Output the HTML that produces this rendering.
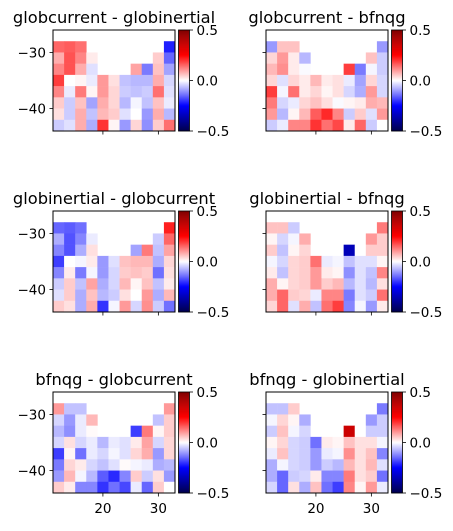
<!DOCTYPE html>
<html><head><meta charset="utf-8">
<style>
body{margin:0;background:#fff;}
svg text{font-family:"DejaVu Sans","Liberation Sans",sans-serif;fill:#000;}
</style></head>
<body>
<svg id="fig" width="453" height="526" viewBox="0 0 453 526" xmlns="http://www.w3.org/2000/svg"></svg>
<script>
const N = null;
const lonCenters = [12,14,16,18,20,22,24,26,28,30,32];
const latCenters = [-27,-29,-31,-33,-35,-37,-39,-41,-43];
const xTicks = [20,30];
const yTicks = [-30,-40];
const cbTicks = [0.5,0.0,-0.5];
const titles = ["globcurrent - globinertial","globcurrent - bfnqg","globinertial - globcurrent","globinertial - bfnqg","bfnqg - globcurrent","bfnqg - globinertial"];

const valsGcGi = [
[N,N,N,N,N,N,N,N,N,N,N],
[0.15,0.16,0.14,N,N,N,N,N,N,N,-0.22],
[0.08,0.17,0.12,0.02,N,N,N,N,N,0.05,-0.15],
[0.12,0.17,0.08,-0.03,N,N,N,0.09,-0.13,0.06,-0.09],
[0.19,0,0.01,-0.02,0.1,0.03,-0.06,-0.07,-0.07,0.08,-0.04],
[0.12,-0.02,0.13,0.01,0.1,0.04,-0.05,-0.06,-0.05,0.14,-0.03],
[0.05,-0.05,0.06,-0.09,0.08,0.04,-0.07,-0.01,-0.06,0.06,-0.02],
[0.03,-0.05,0.08,-0.06,0.07,0.05,-0.03,0,-0.1,0.08,-0.07],
[-0.05,-0.03,0.08,-0.08,0.2,0.01,-0.1,0.04,-0.11,0.05,0.14]];
const valsGcBf = [
[N,N,N,N,N,N,N,N,N,N,N],
[-0.1,0.06,0.06,N,N,N,N,N,N,N,-0.1],
[0.04,0.1,0.02,-0.07,N,N,N,N,N,0.06,-0.05],
[0.07,0.11,0.02,-0.005,N,N,N,0.19,-0.13,-0.01,-0.05],
[0.04,-0.03,0.04,0.02,0.07,0.02,0.03,-0.02,-0.09,0.04,-0.04],
[0.19,-0.01,0.14,0.02,0.04,0.01,0.03,-0.04,-0.08,0.1,-0.04],
[0.13,-0.04,-0.02,0.04,0.06,0.03,-0.005,0.01,0.02,0.08,0.07],
[0.1,-0.07,0.01,0.07,0.16,0.21,0.12,-0.05,0.05,-0.03,0.1],
[-0.05,-0.02,0.12,0.12,0.2,0.14,0.18,0.02,0.15,-0.05,0]];
const valsGiGc = [
[N,N,N,N,N,N,N,N,N,N,N],
[-0.15,-0.16,-0.14,N,N,N,N,N,N,N,0.22],
[-0.08,-0.17,-0.12,-0.02,N,N,N,N,N,-0.05,0.15],
[-0.12,-0.17,-0.08,0.03,N,N,N,-0.09,0.13,-0.06,0.09],
[-0.19,0,-0.01,0.02,-0.1,-0.03,0.06,0.07,0.07,-0.08,0.04],
[-0.12,0.02,-0.13,-0.01,-0.1,-0.04,0.05,0.06,0.05,-0.14,0.03],
[-0.05,0.05,-0.06,0.09,-0.08,-0.04,0.07,0.01,0.06,-0.06,0.02],
[-0.03,0.05,-0.08,0.06,-0.07,-0.05,0.03,0,0.1,-0.08,0.07],
[0.05,0.03,-0.08,0.08,-0.2,-0.01,0.1,-0.04,0.11,-0.05,-0.14]];
const valsGiBf = [
[N,N,N,N,N,N,N,N,N,N,N],
[0.06,0.06,-0.05,N,N,N,N,N,N,N,0.13],
[0.01,-0.04,-0.01,0.08,N,N,N,N,N,0.1,0.05],
[0.05,-0.06,0.01,0.04,N,N,N,-0.35,0,0.05,0.05],
[-0.01,-0.04,0.04,0.05,0.14,-0.02,-0.01,-0.06,-0.03,-0.03,0.01],
[0.02,-0.06,0.04,0.05,0.1,0.02,0.01,-0.11,-0.03,-0.06,0.12],
[0.08,0.01,0.04,0.05,0.1,0.05,0.07,-0.07,-0.03,-0.07,0.03],
[0.08,0.15,0.05,0.04,-0.02,0.12,0.12,-0.13,-0.03,-0.05,0.14],
[0.04,0.15,-0.03,0.08,-0.06,0.14,0.19,-0.12,-0.01,-0.1,0.02]];
const valsBfGc = [
[N,N,N,N,N,N,N,N,N,N,N],
[0.1,-0.06,-0.06,N,N,N,N,N,N,N,0.1],
[-0.04,-0.1,-0.02,0.07,N,N,N,N,N,-0.06,0.05],
[-0.07,-0.11,-0.02,0.005,N,N,N,-0.19,0.13,0.01,0.05],
[-0.04,0.03,-0.04,-0.02,-0.07,-0.02,-0.03,0.02,0.09,-0.04,0.04],
[-0.19,0.01,-0.14,-0.02,-0.04,-0.01,-0.03,0.04,0.08,-0.1,0.04],
[-0.13,0.04,0.02,-0.04,-0.06,-0.03,0.005,-0.01,-0.02,-0.08,-0.07],
[-0.1,0.07,-0.01,-0.07,-0.16,-0.21,-0.12,0.05,-0.05,0.03,-0.1],
[0.05,0.02,-0.12,-0.12,-0.2,-0.14,-0.18,-0.02,-0.15,0.05,0]];
const valsBfGi = [
[N,N,N,N,N,N,N,N,N,N,N],
[-0.06,-0.06,0.05,N,N,N,N,N,N,N,-0.13],
[-0.01,0.04,0.01,-0.08,N,N,N,N,N,-0.1,-0.05],
[-0.05,0.06,-0.01,-0.04,N,N,N,0.35,0,-0.05,-0.05],
[0.01,0.04,-0.04,-0.05,-0.14,0.02,0.01,0.06,0.03,0.03,-0.01],
[-0.02,0.06,-0.04,-0.05,-0.1,-0.02,-0.01,0.11,0.03,0.06,-0.12],
[-0.08,-0.01,-0.04,-0.05,-0.1,-0.05,-0.07,0.07,0.03,0.07,-0.03],
[-0.08,-0.15,-0.05,-0.04,0.02,-0.12,-0.12,0.13,0.03,0.05,-0.14],
[-0.04,-0.15,0.03,-0.08,0.06,-0.14,-0.19,0.12,0.01,0.1,-0.02]];
const allVals = [valsGcGi,valsGcBf,valsGiGc,valsGiBf,valsBfGc,valsBfGi];

const NS="http://www.w3.org/2000/svg";
const svg=document.getElementById('fig');
function mk(tag,attrs,parent){const e=document.createElementNS(NS,tag);for(const k in attrs)e.setAttribute(k,attrs[k]);(parent||svg).appendChild(e);return e;}
function seismic(v){
  let t=Math.max(0,Math.min(1,(v+0.5)));
  const stops=[[0,0,0,0.3],[0.25,0,0,1],[0.5,1,1,1],[0.75,1,0,0],[1,0.5,0,0]];
  for(let i=0;i<4;i++){const a=stops[i],b=stops[i+1];
    if(t<=b[0]){const f=(t-a[0])/(b[0]-a[0]);
      const c=[1,2,3].map(j=>Math.round(255*(a[j]+(b[j]-a[j])*f)));
      return `rgb(${c[0]},${c[1]},${c[2]})`;}}
  return 'rgb(128,0,0)';
}
const axW=122, axH=101;
const axX=[53,266], axY=[30,211,392];
const lonMin=11, lonMax=33, latMax=-26, latMin=-44;
for(let p=0;p<6;p++){
  const col=p%2,row=Math.floor(p/2);
  const x0=axX[col], y0=axY[row];
  const g=mk('g',{});
  
  
  const xs=lon=>x0+(lon-lonMin)/(lonMax-lonMin)*axW;
  const ys=lat=>y0+(latMax-lat)/(latMax-latMin)*axH;
  const t=mk('text',{x:x0+axW/2,y:y0-7,'text-anchor':'middle','font-size':'16.3'},g);
  t.textContent=titles[p];
  
  
  const vals=allVals[p];
  for(let r=0;r<latCenters.length;r++)for(let c=0;c<lonCenters.length;c++){
    const v=vals[r][c]; if(v===null) continue;
    const xa=xs(lonCenters[c]-1), xb=xs(lonCenters[c]+1);
    const ya=ys(latCenters[r]+1), yb=ys(latCenters[r]-1);
    const cell=mk('rect',{x:xa,y:ya,width:xb-xa+0.3,height:yb-ya+0.3,fill:seismic(v)},g);
    
    
  }
  const frame=mk('rect',{x:x0,y:y0,width:axW,height:axH,fill:'none',stroke:'#000','stroke-width':1},g);
  
  
  yTicks.forEach(yt=>{const y=ys(yt);
    mk('line',{x1:x0-3.5,x2:x0,y1:y,y2:y,stroke:'#000','stroke-width':0.8},g);
    if(col===0){const tl=mk('text',{x:x0-7,y:y+5,'text-anchor':'end','font-size':'13.5'},g);
      tl.textContent=(yt<0?'\u2212':'')+Math.abs(yt);
      
      }
  });
  xTicks.forEach(xt=>{const x=xs(xt);
    mk('line',{x1:x,x2:x,y1:y0+axH,y2:y0+axH+3.5,stroke:'#000','stroke-width':0.8},g);
    if(row===2){const tl=mk('text',{x:x,y:y0+axH+20,'text-anchor':'middle','font-size':'13.5'},g);
      tl.textContent=String(xt);
      
      }
  });
  const cx=x0+axW+3.5, cw=11;
  const cb=mk('g',{},g);
  
  
  const steps=100;
  for(let i=0;i<steps;i++){const v=0.5-(i+0.5)/steps;
    mk('rect',{x:cx,y:y0+i*axH/steps,width:cw,height:axH/steps+0.3,fill:seismic(v)},cb);}
  mk('rect',{x:cx,y:y0,width:cw,height:axH,fill:'none',stroke:'#000','stroke-width':0.8},cb);
  cbTicks.forEach(ct=>{const y=y0+(0.5-ct)*axH;
    mk('line',{x1:cx+cw,x2:cx+cw+3.5,y1:y,y2:y,stroke:'#000','stroke-width':0.8},cb);
    const tl=mk('text',{x:cx+cw+7,y:y+5,'font-size':'13.5'},cb);
    tl.textContent=(ct<0?'\u2212':'')+Math.abs(ct).toFixed(1);
    
    
  });
}
</script>
</body></html>
